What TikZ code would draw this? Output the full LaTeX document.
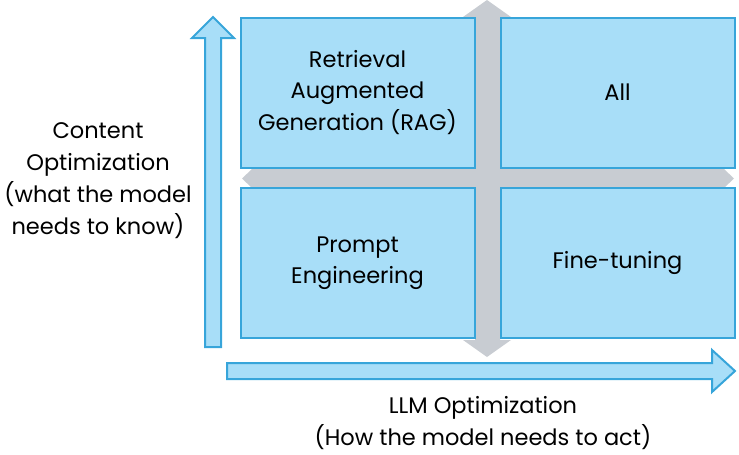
\documentclass[tikz,border=0pt]{standalone}
\usepackage{fontspec}
\setmainfont{Poppins}
\usetikzlibrary{positioning}
\definecolor{cellfill}{HTML}{A8DEF8}
\definecolor{celledge}{HTML}{37A5DA}
\definecolor{crossgray}{HTML}{C8CCD2}
\tikzset{
  cell/.style={draw=celledge,fill=cellfill,line width=2pt,minimum width=234pt,minimum height=150pt,
    inner sep=0pt,align=center,font=\fontsize{22.5}{31.5}\selectfont},
  axisarrow/.style={draw=celledge,fill=cellfill,line width=2pt,line join=miter},
  label/.style={align=center,font=\fontsize{22.5}{32}\selectfont,inner sep=0pt}
}
\begin{document}
\begin{tikzpicture}[x=1pt,y=-1pt]
  \useasboundingbox (0,0) rectangle (739,455);
  % gray cross behind the cells
  \fill[crossgray] (475,17) -- (463,17) -- (487,0) -- (511,17) -- (500,17) -- (500,340)
    -- (511,340) -- (487,357) -- (463,340) -- (475,340) -- cycle;
  \fill[crossgray] (252,169) -- (242,178.5) -- (252,188) -- (724,188) -- (734,178.5) -- (724,169) -- cycle;

  % the four cells
  \node[cell] (rag) at (357.5,92.5) {Retrieval\\Augmented\\Generation (RAG)};
  \node[cell] (all) at (617.5,92.5) {All};
  \node[cell] (prompt) at (357.5,263) {Prompt\\Engineering};
  \node[cell] (tune) at (617.5,263) {Fine-tuning};

  % axes
  \draw[axisarrow] (205,347) -- (205,38) -- (192,38) -- (213,17) -- (234,38) -- (221,38)
    -- (221,347) -- cycle;
  \draw[axisarrow] (227,363) -- (712,363) -- (712,350) -- (735,371) -- (712,392) -- (712,379)
    -- (227,379) -- cycle;

  % axis labels
  \node[label] (content) at (98,181) {Content\\Optimization\\(what the model\\needs to know)};
  \node[label] (llm) at (483,423) {LLM Optimization\\(How the model needs to act)};
\end{tikzpicture}
\end{document}
